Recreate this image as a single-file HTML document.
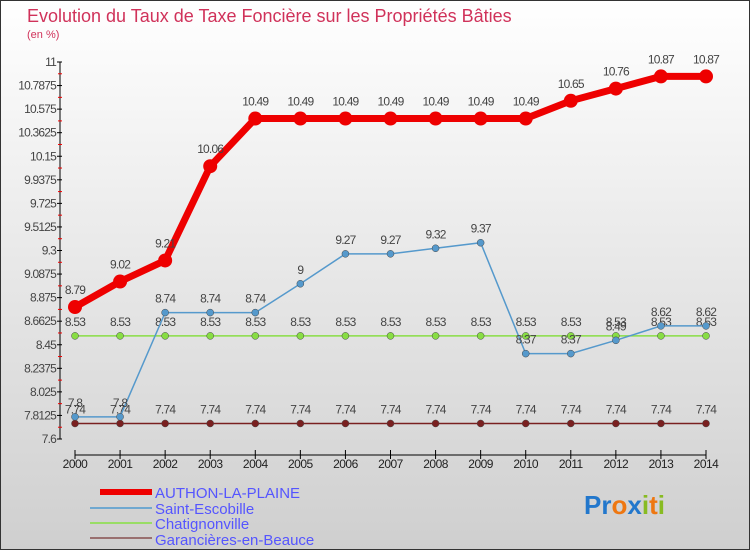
<!DOCTYPE html>
<html><head><meta charset="utf-8"><style>
body{margin:0;width:750px;height:550px;overflow:hidden;font-family:"Liberation Sans",sans-serif}
</style></head><body>
<svg id="c" width="750" height="550" xmlns="http://www.w3.org/2000/svg">
<defs><linearGradient id="bg" x1="0" y1="0" x2="0" y2="1"><stop offset="0" stop-color="#ffffff"/><stop offset="1" stop-color="#cfcfcf"/></linearGradient></defs>
<rect x="0.5" y="0.5" width="749" height="549" fill="url(#bg)" stroke="#333"/>
<text x="27" y="22" font-size="18" fill="#d0325a">Evolution du Taux de Taxe Foncière sur les Propriétés Bâties</text>
<text x="27" y="38" font-size="11" fill="#d0325a">(en %)</text>
<g id="axes"></g><g id="series"></g>
<g>
<line x1="100" y1="492" x2="152" y2="492" stroke="#ee0000" stroke-width="6"/>
<text x="155" y="498" font-size="15" fill="#5555ff">AUTHON-LA-PLAINE</text>
<line x1="90" y1="508" x2="152" y2="508" stroke="#6fa8d0" stroke-width="2"/>
<text x="155" y="514" font-size="15" fill="#5555ff">Saint-Escobille</text>
<line x1="90" y1="523" x2="152" y2="523" stroke="#99dd66" stroke-width="2"/>
<text x="155" y="529" font-size="15" fill="#5555ff">Chatignonville</text>
<line x1="90" y1="538" x2="152" y2="538" stroke="#997070" stroke-width="2"/>
<text x="155" y="545" font-size="15" fill="#5555ff">Garancières-en-Beauce</text>
</g>
<text x="584" y="514" font-size="26" font-weight="bold"><tspan fill="#2277cc">Pr</tspan><tspan fill="#ee7711">o</tspan><tspan fill="#2277cc">x</tspan><tspan fill="#88bb22">i</tspan><tspan fill="#ee7711">t</tspan><tspan fill="#88bb22">i</tspan></text>
</svg>
<script>
const years=[2000,2001,2002,2003,2004,2005,2006,2007,2008,2009,2010,2011,2012,2013,2014];
const yTicks=[7.6,7.8125,8.025,8.2375,8.45,8.6625,8.875,9.0875,9.3,9.5125,9.725,9.9375,10.15,10.3625,10.575,10.7875,11];
const authon=[8.79,9.02,9.21,10.06,10.49,10.49,10.49,10.49,10.49,10.49,10.49,10.65,10.76,10.87,10.87];
const escobille=[7.8,7.8,8.74,8.74,8.74,9,9.27,9.27,9.32,9.37,8.37,8.37,8.49,8.62,8.62];
const chatignon=[8.53,8.53,8.53,8.53,8.53,8.53,8.53,8.53,8.53,8.53,8.53,8.53,8.53,8.53,8.53];
const garancieres=[7.74,7.74,7.74,7.74,7.74,7.74,7.74,7.74,7.74,7.74,7.74,7.74,7.74,7.74,7.74];
const NS="http://www.w3.org/2000/svg";
const X=i=>75+i*(706-75)/(years.length-1);
const Y=v=>439-(v-7.6)/(11-7.6)*377;
function mk(tag,at,parent){const e=document.createElementNS(NS,tag);for(const k in at)e.setAttribute(k,at[k]);parent.appendChild(e);return e;}
const ax=document.getElementById('axes'),sr=document.getElementById('series');
let e=mk('line',{x1:60,y1:Y(11),x2:60,y2:Y(7.6),stroke:'#000'},ax);


yTicks.forEach((t,i)=>{
 const y=Y(t);
 let l=mk('line',{x1:57,y1:y,x2:62,y2:y,stroke:'#000'},ax);
 
 
 let tx=mk('text',{x:56,y:y+4,'font-size':12,'text-anchor':'end',fill:'#444','letter-spacing':'-0.8'},ax);
 tx.textContent=String(t);
 
 
 if(i<yTicks.length-1){const m=Y((t+yTicks[i+1])/2);
  let r=mk('line',{x1:58,y1:m,x2:62,y2:m,stroke:'#e00'},ax);
  
  }
});
e=mk('line',{x1:X(0),y1:455,x2:X(years.length-1),y2:455,stroke:'#000'},ax);


years.forEach((yr,i)=>{
 let l=mk('line',{x1:X(i),y1:450,x2:X(i),y2:459,stroke:'#000'},ax);
 
 
 let t=mk('text',{x:X(i),y:468,'font-size':12,'text-anchor':'middle',fill:'#222','letter-spacing':'-0.5'},ax);
 t.textContent=yr;
 
 
});
function series(vals,color,w,r,name,dy){
 const g=mk('g',{},sr);
 
 
 const p=mk('polyline',{points:vals.map((v,i)=>X(i)+','+Y(v)).join(' '),fill:'none',stroke:color,'stroke-width':w},g);
 
 
 vals.forEach((v,i)=>{
  const c=mk('circle',{cx:X(i),cy:Y(v),r:r,fill:color,stroke:w>3?'none':'#444','stroke-width':0.5},g);
  
  
  const t=mk('text',{x:X(i),y:Y(v)+dy,'font-size':12,'text-anchor':'middle',fill:'#444','letter-spacing':'-0.8'},g);
  t.textContent=String(v);
  
  
 });
}
series(garancieres,'#7a2020',1.5,3.5,'garancieres',-10);
series(chatignon,'#88dd44',1.5,3.5,'chatignonville',-10);
series(escobille,'#5599cc',1.5,3.5,'saint-escobille',-10);
series(authon,'#ee0000',7,7,'authon',-13);
</script>
</body></html>
